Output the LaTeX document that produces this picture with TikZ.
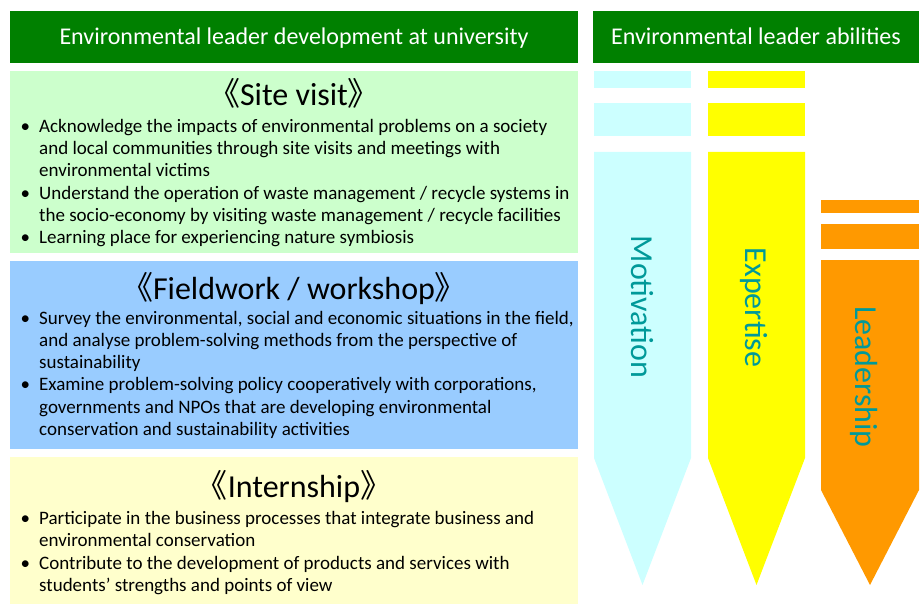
\documentclass[tikz,border=0pt]{standalone}
\usepackage{fontspec}
\setmainfont{Carlito}
\newfontfamily\cjk[RawFeature=+halt]{Noto Sans CJK JP}
\definecolor{hdrgreen}{RGB}{0,128,0}
\definecolor{sitebg}{RGB}{204,255,204}
\definecolor{fieldbg}{RGB}{153,204,255}
\definecolor{internbg}{RGB}{255,255,204}
\definecolor{motcol}{RGB}{204,255,255}
\definecolor{expcol}{RGB}{255,255,0}
\definecolor{leadcol}{RGB}{255,153,0}
\definecolor{abtext}{RGB}{0,153,153}
\newcommand\bul{\makebox[0pt][r]{\textbullet\hspace{9pt}}}
\newcommand\lbrk{{\cjk 《}}
\newcommand\rbrk{{\cjk 》}}
\begin{document}
\begin{tikzpicture}[x=1pt,y=-1pt,
  hdrtext/.style={text=white, font=\fontsize{24}{28}\selectfont, anchor=base, inner sep=0pt},
  titletext/.style={font=\fontsize{32}{36}\selectfont, anchor=base, inner sep=0pt},
  body/.style={font=\fontsize{19}{22}\selectfont, anchor=base west, inner sep=0pt},
  ability/.style={font=\fontsize{32}{36}\selectfont, text=abtext, rotate=-90, anchor=base, inner sep=0pt}]
\useasboundingbox (0,0) rectangle (921,604);
% headers
\fill[hdrgreen] (10,11) rectangle (578,63);
\fill[hdrgreen] (593,11) rectangle (919,63);
\node[hdrtext] (h1) at (294,45) {Environmental leader development at university};
\node[hdrtext] (h2) at (756,45) {Environmental leader abilities};
% left boxes
\fill[sitebg] (10,71) rectangle (578,253);
\fill[fieldbg] (10,261) rectangle (578,449);
\fill[internbg] (10,457) rectangle (578,604);
% site visit
\node[titletext] (t1) at (294,106) {\lbrk Site visit\rbrk};
\node[body] (s1) at (39,132.5) {\bul Acknowledge the impacts of environmental problems on a society};
\node[body] (s2) at (39,154.7) {and local communities through site visits and meetings with};
\node[body] (s3) at (39,176.9) {environmental victims};
\node[body] (s4) at (39,199.1) {\bul Understand the operation of waste management / recycle systems in};
\node[body] (s5) at (39,221.3) {the socio-economy by visiting waste management / recycle facilities};
\node[body] (s6) at (39,243.5) {\bul Learning place for experiencing nature symbiosis};
% fieldwork
\node[titletext] (t2) at (294,299) {\lbrk Fieldwork / workshop\rbrk};
\node[body] (f1) at (39,324) {\bul Survey the environmental, social and economic situations in the field,};
\node[body] (f2) at (39,346.3) {and analyse problem-solving methods from the perspective of};
\node[body] (f3) at (39,368.6) {sustainability};
\node[body] (f4) at (39,390.9) {\bul Examine problem-solving policy cooperatively with corporations,};
\node[body] (f5) at (39,413.2) {governments and NPOs that are developing environmental};
\node[body] (f6) at (39,435.5) {conservation and sustainability activities};
% internship
\node[titletext] (t3) at (294,497) {\lbrk Internship\rbrk};
\node[body] (i1) at (39,524.5) {\bul Participate in the business processes that integrate business and};
\node[body] (i2) at (39,546.8) {environmental conservation};
\node[body] (i3) at (39,569.1) {\bul Contribute to the development of products and services with};
\node[body] (i4) at (39,591.4) {students’ strengths and points of view};
% motivation
\fill[motcol] (594,71) rectangle (691,88);
\fill[motcol] (594,103) rectangle (691,136);
\fill[motcol] (594,152) -- (691,152) -- (691,458) -- (642.5,585) -- (594,458) -- cycle;
% expertise
\fill[expcol] (708,71) rectangle (805,88);
\fill[expcol] (708,103) rectangle (805,136);
\fill[expcol] (708,152) -- (805,152) -- (805,458) -- (756.5,585) -- (708,458) -- cycle;
% leadership
\fill[leadcol] (821,200) rectangle (919,213);
\fill[leadcol] (821,224) rectangle (919,249);
\fill[leadcol] (821,260) -- (919,260) -- (919,490) -- (870,585) -- (821,490) -- cycle;
\node[ability] (m) at (631,307) {Motivation};
\node[ability] (e) at (745,307.5) {Expertise};
\node[ability] (l) at (855,377) {Leadership};
\end{tikzpicture}
\end{document}
